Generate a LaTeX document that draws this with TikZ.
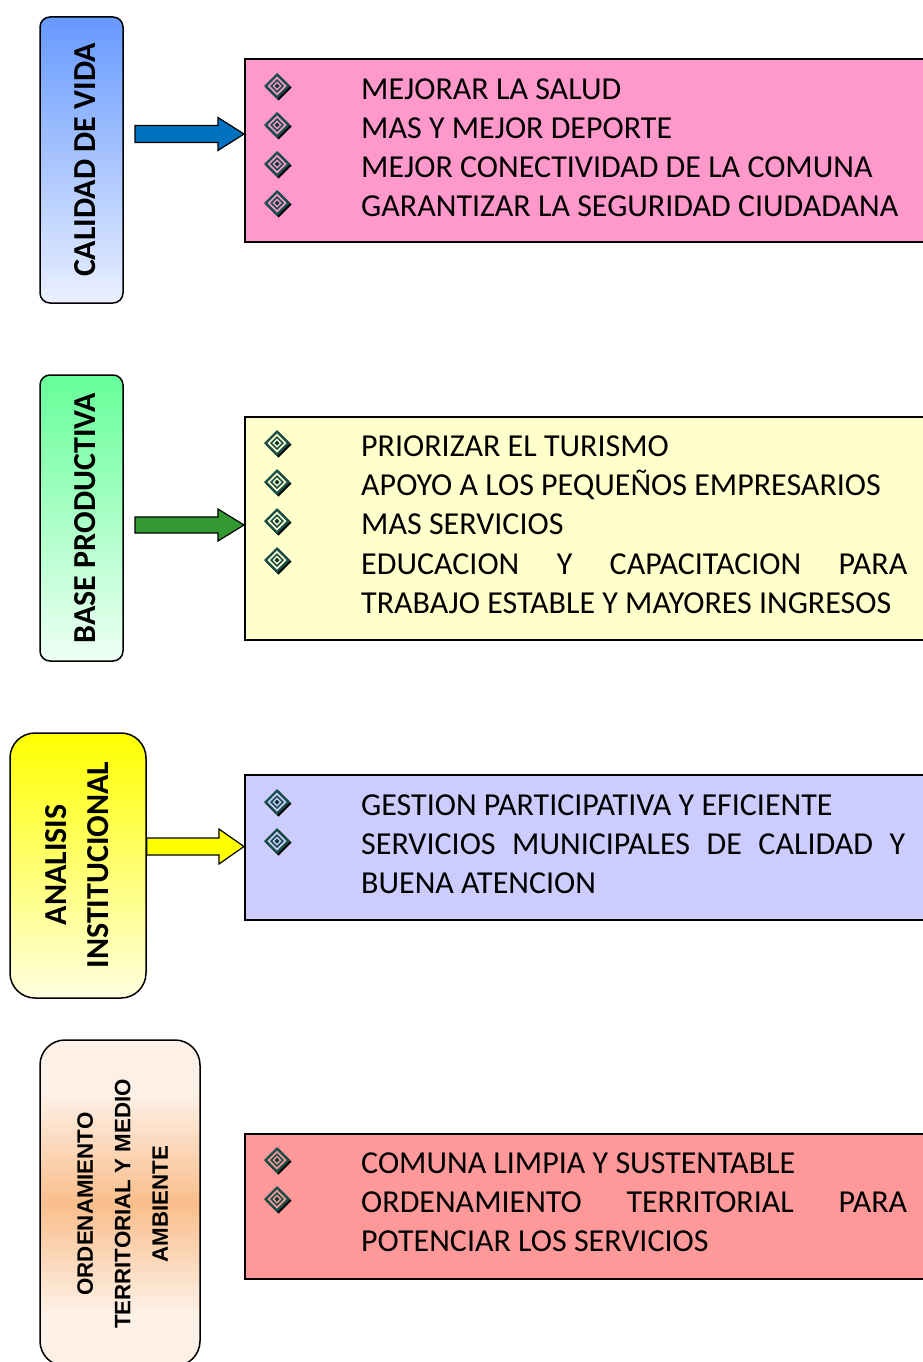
\documentclass[tikz,border=0pt]{standalone}
\usepackage{fontspec}
\setmainfont{Carlito}
\newfontfamily\arialbold{Liberation Sans Bold}
\usetikzlibrary{calc}
\definecolor{boxpink}{HTML}{FF99CC}
\definecolor{boxyellow}{HTML}{FFFFCC}
\definecolor{boxlilac}{HTML}{CCCCFF}
\definecolor{boxsalmon}{HTML}{FF9999}
\definecolor{blueTop}{HTML}{6699FF}
\definecolor{blueBot}{HTML}{EAF0FF}
\definecolor{greenTop}{HTML}{66FF99}
\definecolor{greenBot}{HTML}{EEFFF4}
\definecolor{yelTop}{HTML}{FFFF00}
\definecolor{yelBot}{HTML}{FFFFE0}
\definecolor{orTop}{HTML}{FDF1E7}
\definecolor{orMid}{HTML}{F9BE8C}
\definecolor{arrBlue}{HTML}{0070C0}
\definecolor{arrGreen}{HTML}{339933}
\definecolor{arrYellow}{HTML}{FFFF00}
\definecolor{bulTeal}{HTML}{1A504B}
\pgfdeclareverticalshading{orshade}{100bp}{color(0bp)=(orTop); color(25bp)=(orTop); color(33bp)=(orTop); color(50bp)=(orMid); color(67bp)=(orTop); color(75bp)=(orTop); color(100bp)=(orTop)}
\tikzset{
  leftbox/.style={draw=black, line width=1.5pt, rounded corners=10pt, inner sep=0pt},
  rightbox/.style={draw=black, line width=1.6pt, inner sep=0pt},
  itemtext/.style={anchor=base west, inner sep=0pt, font=\fontsize{32}{39}\selectfont},
  sidetext/.style={rotate=90, inner sep=0pt, align=center, font=\fontsize{32}{42}\selectfont\bfseries},
  blockarr/.style={draw=black, line width=1.2pt, line join=miter, fill=#1},
  bullet/.pic={
    \fill[black] (1.5,-11.5) -- (14.5,1.5) -- (1.5,14.5) -- (-11.5,1.5) -- cycle;
    \fill[bulTeal] (0,-13) -- (13,0) -- (0,13) -- (-13,0) -- cycle;
    \fill[#1] (0,-9.5) -- (9.5,0) -- (0,9.5) -- (-9.5,0) -- cycle;
    \fill[bulTeal] (0,-7) -- (7,0) -- (0,7) -- (-7,0) -- cycle;
    \fill[#1] (0,-4.5) -- (4.5,0) -- (0,4.5) -- (-4.5,0) -- cycle;
    \fill[bulTeal!70!black] (0,-2.5) -- (2.5,0) -- (0,2.5) -- (-2.5,0) -- cycle;
  }
}
\begin{document}
\begin{tikzpicture}[x=1pt,y=-1pt]
\useasboundingbox (0,0) rectangle (923,1362);

% ---------- row 1 ----------
\node[leftbox, top color=blueTop, bottom color=blueBot, minimum width=83pt, minimum height=286pt] (l1) at (81.5,160) {};
\node[sidetext] (l1t) at (85,160) {CALIDAD DE VIDA};
\node[rightbox, fill=boxpink, minimum width=700pt, minimum height=183pt, anchor=north west] (r1) at (244,58) {};
\coordinate (a1) at (135,134);
\draw[blockarr=arrBlue] let \p1=(a1), \p2=(a1 -| r1.west) in
  (\x1,\y1-8.5) -- (\x2-26,\y1-8.5) -- (\x2-26,\y1-16.5) -- (\x2,\y1) -- (\x2-26,\y1+16.5) -- (\x2-26,\y1+8.5) -- (\x1,\y1+8.5) -- cycle;
\foreach \yy in {86,125,164,203} \pic at (277,\yy) {bullet=boxpink};
\node[itemtext] (t11) at (361,99.5) {MEJORAR LA SALUD};
\node[itemtext] (t12) at (361,138.5) {MAS Y MEJOR DEPORTE};
\node[itemtext] (t13) at (361,177.5) {MEJOR CONECTIVIDAD DE LA COMUNA};
\node[itemtext] (t14) at (361,216.5) {GARANTIZAR LA SEGURIDAD CIUDADANA};

% ---------- row 2 ----------
\node[leftbox, top color=greenTop, bottom color=greenBot, minimum width=83pt, minimum height=286pt] (l2) at (81.5,518) {};
\node[sidetext] (l2t) at (85,518) {BASE PRODUCTIVA};
\node[rightbox, fill=boxyellow, minimum width=700pt, minimum height=223pt, anchor=north west] (r2) at (244,416) {};
\coordinate (a2) at (135,525);
\draw[blockarr=arrGreen] let \p1=(a2), \p2=(a2 -| r2.west) in
  (\x1,\y1-8) -- (\x2-26,\y1-8) -- (\x2-26,\y1-16) -- (\x2,\y1) -- (\x2-26,\y1+16) -- (\x2-26,\y1+8) -- (\x1,\y1+8) -- cycle;
\foreach \yy in {443,482,521,560} \pic at (277,\yy) {bullet=boxyellow};
\node[itemtext] (t21) at (361,456.5) {PRIORIZAR EL TURISMO};
\node[itemtext] (t22) at (361,495.5) {APOYO A LOS PEQUEÑOS EMPRESARIOS};
\node[itemtext] (t23) at (361,534.5) {MAS SERVICIOS};
\node[itemtext] (t24) at (361,574.5) {\makebox[546pt][s]{EDUCACION\hfill Y\hfill CAPACITACION\hfill PARA}};
\node[itemtext] (t25) at (361,613.5) {TRABAJO ESTABLE Y MAYORES INGRESOS};

% ---------- row 3 ----------
\node[leftbox, rounded corners=25pt, top color=yelTop, bottom color=yelBot, minimum width=136pt, minimum height=265pt] (l3) at (78,865.5) {};
\node[sidetext] (l3t) at (77,865) {ANALISIS\\INSTITUCIONAL};
\node[rightbox, fill=boxlilac, minimum width=700pt, minimum height=145pt, anchor=north west] (r3) at (244,774) {};
\coordinate (a3) at (l3.east |- 0,846.5);
\draw[blockarr=arrYellow] let \p1=(a3), \p2=(a3 -| r3.west) in
  (\x1,\y1-8.5) -- (\x2-25,\y1-8.5) -- (\x2-25,\y1-17.5) -- (\x2,\y1) -- (\x2-25,\y1+17.5) -- (\x2-25,\y1+8.5) -- (\x1,\y1+8.5) -- cycle;
\foreach \yy in {802,841} \pic at (277,\yy) {bullet=boxlilac};
\node[itemtext] (t31) at (361,815) {GESTION PARTICIPATIVA Y EFICIENTE};
\node[itemtext] (t32) at (361,854) {\makebox[544pt][s]{SERVICIOS\hfill MUNICIPALES\hfill DE\hfill CALIDAD\hfill Y}};
\node[itemtext] (t33) at (361,893) {BUENA ATENCION};

% ---------- row 4 ----------
\node[leftbox, rounded corners=25pt, shading=orshade, minimum width=160pt, minimum height=326pt] (l4) at (120,1203) {};
\node[rotate=90, inner sep=0pt, align=center, font=\arialbold\fontsize{22.3}{37.5}\selectfont] (l4t) at (122.5,1204) {ORDENAMIENTO\\TERRITORIAL Y MEDIO\\AMBIENTE};
\node[rightbox, fill=boxsalmon, minimum width=700pt, minimum height=145pt, anchor=north west] (r4) at (244,1133) {};
\foreach \yy in {1160,1199} \pic at (277,\yy) {bullet=boxsalmon};
\node[itemtext] (t41) at (361,1173) {COMUNA LIMPIA Y SUSTENTABLE};
\node[itemtext] (t42) at (361,1212) {\makebox[546pt][s]{ORDENAMIENTO\hfill TERRITORIAL\hfill PARA}};
\node[itemtext] (t43) at (361,1251) {POTENCIAR LOS SERVICIOS};
\end{tikzpicture}
\end{document}
